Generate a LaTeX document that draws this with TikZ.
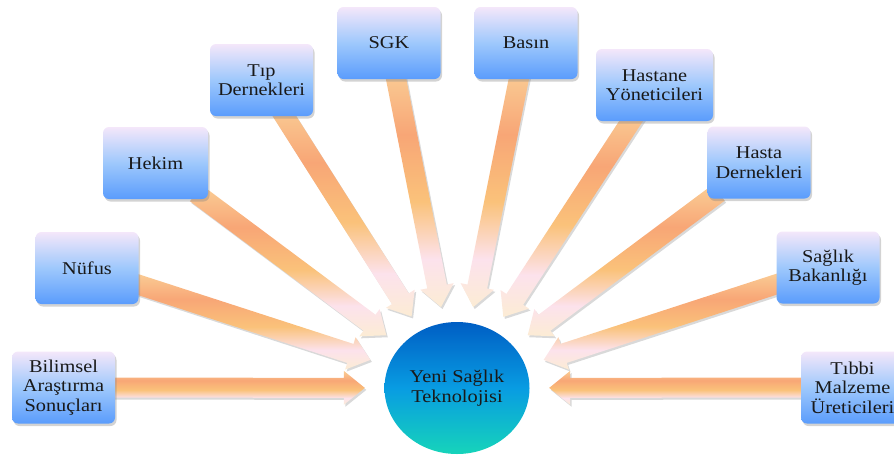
\documentclass[tikz,border=0pt]{standalone}
\usepackage{fontspec}
\setmainfont[FakeStretch=1.13]{Liberation Serif}
\usetikzlibrary{calc,shapes.geometric,shadows,backgrounds}

\definecolor{boxtop}{RGB}{244,231,250}
\definecolor{boxmid}{RGB}{158,200,252}
\definecolor{boxbot}{RGB}{90,156,252}
\definecolor{hubtop}{RGB}{0,94,196}
\definecolor{hubmid}{RGB}{8,156,226}
\definecolor{hubbot}{RGB}{22,212,186}
\definecolor{arrA}{RGB}{250,206,150}
\definecolor{arrB}{RGB}{248,166,118}
\definecolor{arrC}{RGB}{250,194,122}
\definecolor{arrD}{RGB}{252,226,236}
\definecolor{arrE}{RGB}{252,236,212}
% page-vertical gradient of the block arrows (0bp = bottom)
\pgfdeclareverticalshading{arrshade}{100bp}{color(0bp)=(arrE); color(25bp)=(arrE);
  color(35bp)=(arrD); color(47bp)=(arrC); color(61bp)=(arrB); color(75bp)=(arrA);
  color(100bp)=(arrA)}

\begin{document}
\begin{tikzpicture}[x=1pt, y=-1pt,
  font=\fontsize{18}{19.5}\selectfont,
  box/.style={rounded corners=6pt, align=center, inner sep=2pt,
              minimum width=103pt, minimum height=72pt, text=black!90,
              top color=boxtop, bottom color=boxbot, middle color=boxmid,
              drop shadow={opacity=0.35, shadow xshift=1.5pt, shadow yshift=-2.5pt}},
  hub/.style={ellipse, align=center, minimum width=145pt, minimum height=132pt,
              inner sep=0pt, text=black!90,
              top color=hubtop, bottom color=hubbot, middle color=hubmid},
  arr/.style={shade, shading=arrshade,
              drop shadow={opacity=0.3, shadow xshift=1.5pt, shadow yshift=-2pt}},
]
\useasboundingbox (0,0) rectangle (894,456);

\node[hub] (hub) at (457,388) {Yeni Sağlık\\Teknolojisi};
\node[ellipse, minimum width=184pt, minimum height=164pt, inner sep=0pt] (ring) at (hub) {};

\node[box] (bilim)   at (63.5,387.5) {Bilimsel\\Araştırma\\Sonuçları};
\node[box] (nufus)   at (87,268)     {Nüfus};
\node[box, minimum width=105pt] (hekim) at (155.5,163) {Hekim};
\node[box] (tipd)    at (261.5,80)   {Tıp\\Dernekleri};
\node[box] (sgk)     at (389,43)     {SGK};
\node[box] (basin)   at (526,43)     {Basın};
\node[box, minimum width=117pt] (hastane) at (654.5,85) {Hastane\\Yöneticileri};
\node[box] (hastad)  at (759,162.5)  {Hasta\\Dernekleri};
\node[box] (saglik)  at (828,267.5)  {Sağlık\\Bakanlığı};
\node[box] (tibbi)   at (852.5,387.5) {Tıbbi\\Malzeme\\Üreticileri};

% block arrows from every box to the hub
\begin{scope}[on background layer]
\foreach \b in {bilim,nufus,hekim,tipd,sgk,basin,hastane,hastad,saglik,tibbi} {
  \path (\b) -- (ring) coordinate[pos=0] (bs) coordinate[pos=1] (tp);
  \path ($(bs)!-10pt!(tp)$) coordinate (st) ($(tp)!21pt!(bs)$) coordinate (hd);
  \path[arr] ($(st)!10pt!90:(tp)$) -- ($(hd)!10pt!-90:(st)$)
    -- ($(hd)!17pt!-90:(st)$) -- (tp) -- ($(hd)!17pt!90:(st)$)
    -- ($(hd)!10pt!90:(st)$) -- ($(st)!10pt!-90:(tp)$) -- cycle;
}
\end{scope}
\end{tikzpicture}
\end{document}
